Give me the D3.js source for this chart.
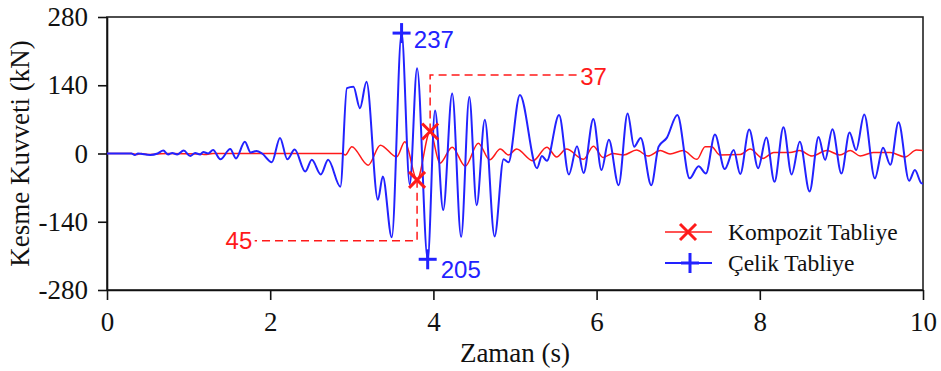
<!DOCTYPE html>
<html>
<head>
<meta charset="utf-8">
<script src="https://cdn.jsdelivr.net/npm/d3@7"></script>
<style>
  html, body { margin: 0; padding: 0; background: #fff; }
  svg { display: block; }
</style>
</head>
<body>
<svg id="chart" width="941" height="371"></svg>
<script>
// ---- Data ----
const xTicks = [0, 2, 4, 6, 8, 10];
const yTicks = [-280, -140, 0, 140, 280];
const xLabel = "Zaman (s)";
const yLabel = "Kesme Kuvveti (kN)";
const seriesNames = ["Kompozit Tabliye", "Çelik Tabliye"];

// Çelik Tabliye (blue) – time (s), shear (kN)
const celikT = [0, 0.30, 0.34, 0.38, 0.53, 0.62, 0.69, 0.75, 0.80, 0.86, 0.94, 1.02, 1.08, 1.14, 1.18, 1.24, 1.30, 1.39, 1.51, 1.58, 1.69, 1.76, 1.83, 1.90, 2.02, 2.12, 2.21, 2.30, 2.43, 2.51, 2.62, 2.71, 2.86, 2.94, 3.02, 3.10, 3.18, 3.32, 3.38, 3.49, 3.61, 3.71, 3.80, 3.93, 4.02, 4.12, 4.23, 4.34, 4.44, 4.53, 4.63, 4.75, 4.86, 4.92, 5.06, 5.27, 5.33, 5.39, 5.54, 5.66, 5.76, 5.84, 5.96, 6.06, 6.15, 6.27, 6.38, 6.46, 6.54, 6.67, 6.76, 6.86, 6.99, 7.14, 7.25, 7.34, 7.45, 7.57, 7.68, 7.76, 7.87, 7.98, 8.08, 8.18, 8.29, 8.39, 8.49, 8.61, 8.72, 8.80, 8.89, 9.00, 9.10, 9.18, 9.28, 9.41, 9.51, 9.60, 9.70, 9.83, 9.90, 9.98, 10.0];
const celikV = [0, 0, -3, 0, -3, 0, 6, -2, 1, -2, 6, -5, 1, -2, 3, 0, 7, -12, 9, -10, 24, 2, 5, 0, -18, 32, -12, 8, -37, -13, -43, -13, -68, 134, 137, 93, 147, -95, -47, -172, 247, -63, 175, -217, 88, -116, 123, -171, 116, -106, 69, -170, -12, -18, 120, -30, -5, -15, 79, -43, 15, -40, 71, -34, 28, -65, 82, 14, 32, -65, 14, 32, 79, -51, -26, -41, 39, -32, 7, -42, 49, -30, 33, -58, 54, -43, 24, -78, 34, -13, 50, -41, 43, 7, 80, -51, 12, -23, 64, -56, -34, -61, -62];

// Kompozit Tabliye (red) – time (s), shear (kN)
const kompozitT = [0, 0.30, 0.36, 0.42, 0.50, 0.62, 0.75, 1.15, 1.20, 1.30, 2.00, 2.88, 2.92, 3.00, 3.20, 3.35, 3.55, 3.65, 3.80, 3.96, 4.08, 4.23, 4.39, 4.55, 4.69, 4.82, 4.92, 5.02, 5.22, 5.39, 5.51, 5.63, 5.84, 5.96, 6.08, 6.20, 6.33, 6.49, 6.63, 6.78, 6.90, 7.06, 7.23, 7.33, 7.41, 7.51, 7.76, 7.88, 8.04, 8.17, 8.37, 8.49, 8.64, 8.82, 8.98, 9.11, 9.23, 9.39, 9.60, 9.78, 9.92, 10.0];
const kompozitV = [0, 0, -2, 0, -2, -1, 0, -1, -2, 0, 0, 0, -3, 14, -24, 17, -7, 24, -54, 45, -20, 13, -26, 21, -13, 9, -3, 9, -15, 13, -7, 9, -12, 15, -8, 0, -3, 7, -5, 6, -1, 6, -12, 14, 14, -3, -2, 9, -10, 2, 2, 6, -5, 6, -3, 6, -5, 2, 2, -7, 7, 6];

// Annotations: marker point, label text, and dashed leader (elbow) in data units
const celikMarks = [
  { t: 3.61, v: 247, label: "237", lt: 3.76, lv: 234 },
  { t: 3.93, v: -217, label: "205", lt: 4.09, lv: -238 }
];
const kompozitMarks = [
  { t: 3.96, v: 45, label: "37", elbowV: 161, endT: 5.76, lt: 5.80, lv: 158 },
  { t: 3.80, v: -54, label: "45", elbowV: -179, endT: 1.81, lt: 1.78, lv: -179 }
];

(function () {
// ---- Layout ----
const mLeft = 107, mRight = 923, mTop = 17, mBottom = 290;
const BLUE = "#2222ff", RED = "#ff1a1a";
const SERIF = "'Liberation Serif', 'Times New Roman', serif";
const SANS = "'Liberation Sans', Arial, sans-serif";
const fmt = d => String(d); // plain hyphen-minus, as in the reference

const svg = d3.select("#chart");
const x = d3.scaleLinear().domain([0, 10]).range([mLeft, mRight]);
const y = d3.scaleLinear().domain([-280, 280]).range([mBottom, mTop]);

// Frame
svg.append("rect")
  .attr("x", mLeft).attr("y", mTop)
  .attr("width", mRight - mLeft).attr("height", mBottom - mTop)
  .attr("fill", "none").attr("stroke", "#222").attr("stroke-width", 1.6);

// Axes
const yAxis = d3.axisLeft(y).tickValues(yTicks).tickFormat(fmt).tickSize(9).tickSizeOuter(0).tickPadding(10);
const gy = svg.append("g").attr("transform", `translate(${mLeft},0)`).call(yAxis);
const xAxis = d3.axisBottom(x).tickValues(xTicks).tickFormat(fmt).tickSize(10).tickSizeOuter(0).tickPadding(12);
const gx = svg.append("g").attr("transform", `translate(0,${mBottom})`).call(xAxis);
[gx, gy].forEach(g => {
  g.selectAll("path, line").attr("stroke", "#111").attr("stroke-width", 1.6);
  g.selectAll("text").attr("fill", "#111").style("font-family", SERIF).style("font-size", "27px");
});

// Axis titles
svg.append("text")
  .attr("x", (mLeft + mRight) / 2).attr("y", 362)
  .attr("text-anchor", "middle")
  .style("font-family", SERIF).style("font-size", "27px").attr("fill", "#111")
  .text(xLabel);
svg.append("text")
  .attr("transform", `translate(29,${(mTop + mBottom) / 2}) rotate(-90)`)
  .attr("text-anchor", "middle")
  .style("font-family", SERIF).style("font-size", "27px").attr("fill", "#111")
  .text(yLabel);

// Lines
const line = d3.line().x(d => x(d[0])).y(d => y(d[1])).curve(d3.curveMonotoneX);
const kData = kompozitT.map((t, i) => [t, kompozitV[i]]);
const cData = celikT.map((t, i) => [t, celikV[i]]);

svg.append("clipPath").attr("id", "clip")
  .append("rect").attr("x", mLeft).attr("y", mTop).attr("width", mRight - mLeft).attr("height", mBottom - mTop);

svg.append("path").datum(kData)
  .attr("d", line).attr("fill", "none")
  .attr("stroke", RED).attr("stroke-width", 1.5)
  .attr("clip-path", "url(#clip)");
svg.append("path").datum(cData)
  .attr("d", line).attr("fill", "none")
  .attr("stroke", BLUE).attr("stroke-width", 2)
  .attr("clip-path", "url(#clip)");

// Markers
function plus(g, cx, cy, color) {
  g.append("line").attr("x1", cx - 9).attr("x2", cx + 9).attr("y1", cy).attr("y2", cy)
    .attr("stroke", color).attr("stroke-width", 3);
  g.append("line").attr("x1", cx).attr("x2", cx).attr("y1", cy - 10).attr("y2", cy + 10)
    .attr("stroke", color).attr("stroke-width", 3);
}
function cross(g, cx, cy, color) {
  const s = 8;
  g.append("line").attr("x1", cx - s).attr("x2", cx + s).attr("y1", cy - s).attr("y2", cy + s)
    .attr("stroke", color).attr("stroke-width", 3);
  g.append("line").attr("x1", cx - s).attr("x2", cx + s).attr("y1", cy + s).attr("y2", cy - s)
    .attr("stroke", color).attr("stroke-width", 3);
}

const ann = svg.append("g");
kompozitMarks.forEach(m => {
  ann.append("path")
    .attr("d", `M${x(m.t)},${y(m.v)} L${x(m.t)},${y(m.elbowV)} L${x(m.endT)},${y(m.elbowV)}`)
    .attr("fill", "none").attr("stroke", RED).attr("stroke-width", 1.5)
    .attr("stroke-dasharray", "8,5");
});
kompozitMarks.forEach(m => {
  cross(ann, x(m.t), y(m.v), RED);
  ann.append("text")
    .attr("x", x(m.lt)).attr("y", y(m.lv))
    .attr("dy", "0.36em")
    .attr("text-anchor", m.lt > m.t ? "start" : "end")
    .style("font-family", SANS).style("font-size", "24px").attr("fill", RED)
    .text(m.label);
});
celikMarks.forEach(m => {
  plus(ann, x(m.t), y(m.v), BLUE);
  ann.append("text")
    .attr("x", x(m.lt)).attr("y", y(m.lv))
    .attr("dy", "0.36em")
    .attr("text-anchor", "start")
    .style("font-family", SANS).style("font-size", "24px").attr("fill", BLUE)
    .text(m.label);
});

// Legend
const legend = svg.append("g");
const legendColors = [RED, BLUE];
const legendY = [232, 263];
seriesNames.forEach((name, i) => {
  legend.append("line").attr("x1", 665).attr("x2", 712).attr("y1", legendY[i]).attr("y2", legendY[i])
    .attr("stroke", legendColors[i]).attr("stroke-width", i === 0 ? 1.5 : 2);
  if (i === 0) cross(legend, 688, legendY[i], RED); else plus(legend, 690, legendY[i], BLUE);
  legend.append("text")
    .attr("x", 728).attr("y", legendY[i]).attr("dy", "0.33em")
    .style("font-family", SERIF).style("font-size", "23.5px").attr("fill", "#111")
    .text(name);
});
})();
</script>
</body>
</html>
